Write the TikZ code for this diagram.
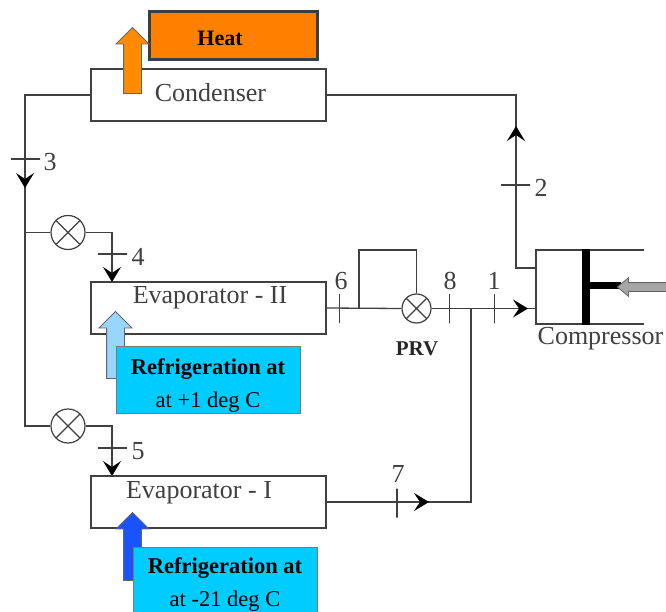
\documentclass[tikz,border=0pt]{standalone}
\usepackage{fontspec}
\usepackage{xcolor}
\setmainfont{Liberation Serif}
\usetikzlibrary{positioning,arrows.meta,shapes,calc}
\definecolor{pipecol}{HTML}{404040}
\definecolor{heatcol}{HTML}{FF8000}
\definecolor{coolcol}{HTML}{00CCFF}
\newcommand{\bigtxt}{\fontsize{26}{30}\selectfont}
\newcommand{\midtxt}{\fontsize{22.5}{33}\selectfont}
\tikzset{
    pipe/.style={draw=pipecol, line width=1.3pt},
    flow/.style={pipe, -{Stealth[length=15pt,width=18pt,inset=6pt,black]}},
    unitbox/.style={draw=pipecol, line width=1.3pt, rectangle, inner sep=0pt, minimum width=235pt, minimum height=52pt},
    coolbox/.style={draw=pipecol!70, line width=0.8pt, fill=coolcol, rectangle, inner sep=0pt, minimum width=184pt},
    valve/.style={draw=pipecol, line width=1.2pt, circle, fill=white, inner sep=0pt, minimum size=#1,
        path picture={\draw[pipecol, line width=1.2pt]
            (path picture bounding box.north west) -- (path picture bounding box.south east)
            (path picture bounding box.north east) -- (path picture bounding box.south west);}},
    tickh/.style={draw=pipecol, line width=1.2pt, rectangle, inner sep=0pt, minimum width=29pt, minimum height=0pt},
    tickv/.style={draw=pipecol, line width=1.2pt, rectangle, inner sep=0pt, minimum width=0pt, minimum height=29pt},
    blockup/.style={draw=pipecol!80, line width=0.8pt, single arrow, single arrow head extend=7.5pt,
        single arrow tip angle=90, single arrow head indent=0pt, inner xsep=0pt, inner ysep=8.5pt, minimum width=32pt,
        minimum height=#1, rotate=90, anchor=center},
    statenum/.style={font=\bigtxt, text=pipecol, inner sep=0pt}
}
\begin{document}
\begin{tikzpicture}[x=1pt,y=-1pt]
    \clip (0,0) rectangle (666,612);
    \fill[white] (0,0) rectangle (666,612);

    % Condenser and heat rejection
    \node[unitbox] (cond) at (208.5,95) {};
    \node[draw=black!85!cyan, line width=3pt, fill=heatcol, rectangle, inner sep=0pt,
        minimum width=168pt, minimum height=48pt] (heat) at (233.5,35.5) {};
    \node[font=\fontsize{22}{26}\selectfont\bfseries] (heattxt) at (220,38) {Heat};
    \node[blockup=66pt, fill=orange!90!yellow] (heatarrow) at (132.5,65) {};
    \node[font=\bigtxt, text=pipecol] (condtxt) at (210.5,93) {Condenser};

    % Evaporators
    \node[unitbox] (evapB) at (208.5,308) {};
    \node[font=\bigtxt, text=pipecol] (evapBtxt) at (210,297.5) {Evaporator - II};
    \node[unitbox] (evapA) at (208.5,502) {};
    \node[font=\bigtxt, text=pipecol] (evapAtxt) at (199,492.5) {Evaporator - I};

    \node[blockup=67pt, fill=blue!40!cyan!40] (coolarrowB) at (115.5,349.5) {};
    \node[coolbox, minimum height=67pt] (coolB) at (208,379.5) {};
    \node[font=\midtxt, align=center, anchor=center] (coolBtxt) at (208,386) {\textbf{Refrigeration at}\\at +1 deg C};
    \node[blockup=68pt, fill=blue!75!cyan!90] (coolarrowA) at (132.5,551) {};
    \node[coolbox, minimum height=75pt] (coolA) at (225,584.5) {};
    \node[font=\midtxt, align=center, anchor=center] (coolAtxt) at (225,585) {\textbf{Refrigeration at}\\at -21 deg C};

    % Expansion valves
    \node[valve=34pt] (valveB) at (68,232.5) {};
    \node[valve=34pt] (valveA) at (68,426) {};
    \node[valve=29pt] (prv) at (416.5,308.5) {};
    \node[font=\fontsize{21}{25}\selectfont\bfseries, text=black!85] (prvtxt) at (417,349) {PRV};

    \coordinate (cornerC) at (25,95);
    \coordinate (arrow3) at (25,188);
    \coordinate (branchB) at (25,232.5);
    \coordinate (branchA) at (25,426);
    \coordinate (inB) at (112,282);
    \coordinate (inA) at (112,476);
    \coordinate (byL) at (359,308.5);
    \coordinate (byT) at (359,250);
    \coordinate (byR) at (416.5,250);
    \coordinate (merge) at (471,308.5);
    \coordinate (mergeB) at (471,502);
    \coordinate (arrow7) at (429,502);
    \coordinate (suction) at (536,308.5);
    \coordinate (arrow1) at (528,308.5);
    \coordinate (disch) at (536,268);
    \coordinate (dischC) at (516,268);
    \coordinate (arrow2) at (516,126);
    \coordinate (cornerD) at (516,95);

    % Compressor
    \coordinate (cylTR) at (644,250);
    \coordinate (cylTL) at (536,250);
    \coordinate (cylBL) at (536,324);
    \coordinate (cylBR) at (644,324);
    \draw[pipe] (cylTR) -- (cylTL) -- (cylBL) -- (cylBR);
    \node[fill=black, rectangle, inner sep=0pt, minimum width=8pt, minimum height=75pt] (piston) at (586,287) {};
    \node[fill=black, rectangle, inner sep=0pt, minimum width=31pt, minimum height=7pt] (rod) at (605,285.5) {};
    \node[draw=pipecol!80, line width=0.8pt, fill=black!35, single arrow, single arrow head extend=5pt,
        single arrow tip angle=80, single arrow head indent=0pt, inner xsep=0pt, inner ysep=4pt, minimum width=18pt,
        minimum height=56pt, rotate=180] (workarrow) at (648,287) {};
    \node[font=\bigtxt, text=pipecol] (comptxt) at (600.5,339) {Compressor};

    % Refrigerant lines
    \draw[pipe] (cond.west) -- (cornerC) -- (branchA) -- (valveA.west);
    \draw[flow] (cornerC) -- (arrow3);
    \draw[pipe] (branchB) -- (valveB.west);
    \draw[flow] (valveB.east) -| (inB);
    \draw[flow] (valveA.east) -| (inA);
    \draw[pipe] (evapB.east) -- (prv.west);
    \draw[pipe] (byL) -- (byT) -- (byR) -- (prv.north);
    \draw[pipe] (prv.east) -- (suction);
    \draw[flow] (prv.east) -- (arrow1);
    \draw[pipe] (evapA.east) -- (mergeB) -- (merge);
    \draw[flow] (evapA.east) -- (arrow7);
    \draw[pipe] (disch) -- (dischC) -- (cornerD) -- (cond.east |- cornerD);
    \draw[flow] (dischC) -- (arrow2);

    % State points
    \node[tickh] (tick3) at (25.5,159) {};
    \node[statenum] (num3) at (50,162) {3};
    \node[tickh] (tick4) at (112.5,254) {};
    \node[statenum] (num4) at (138,257) {4};
    \node[tickh] (tick5) at (112.5,448) {};
    \node[statenum] (num5) at (138,451) {5};
    \node[tickh] (tick2) at (515.5,185) {};
    \node[statenum] (num2) at (541,188) {2};
    \node[tickv] (tick6) at (339.5,308.5) {};
    \node[statenum] (num6) at (341,281) {6};
    \node[tickv] (tick8) at (449.5,308.5) {};
    \node[statenum] (num8) at (450,281) {8};
    \node[tickv] (tick1) at (494.5,308.5) {};
    \node[statenum] (num1) at (494,281) {1};
    \node[tickv] (tick7) at (397,503) {};
    \node[statenum] (num7) at (398,474) {7};
\end{tikzpicture}
\end{document}
